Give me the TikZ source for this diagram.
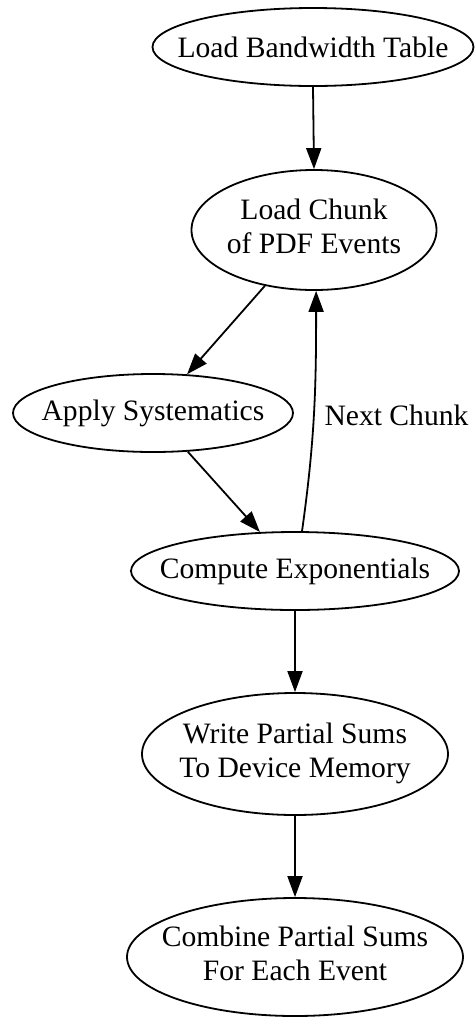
\documentclass[tikz,border=0pt]{standalone}
\usepackage{fontspec}
\setmainfont{Liberation Serif}
\usetikzlibrary{shapes.geometric,arrows.meta}
\begin{document}
\begin{tikzpicture}[x=0.5pt,y=-0.5pt,
  every node/.style={font=\fontsize{14.8}{17}\selectfont},
  proc/.style={draw, ellipse, line width=0.9pt, inner sep=0pt, align=center},
  flow/.style={line width=0.9pt, -{Triangle[length=10.5pt,width=7.5pt]}}]
\useasboundingbox (0,0) rectangle (475,1018);
\node[proc, minimum width=160.5pt, minimum height=39pt] (n1) at (313,47) {\makebox[0pt]{Load Bandwidth Table}};
\node[proc, minimum width=122.5pt, minimum height=60pt] (n2) at (314,230) {\makebox[0pt]{\begin{tabular}{@{}c@{}}Load Chunk\\of PDF Events\end{tabular}}};
\node[proc, minimum width=140pt, minimum height=39pt] (n3) at (153,413) {\makebox[0pt]{Apply Systematics}};
\node[proc, minimum width=164pt, minimum height=39pt] (n4) at (295,571) {\makebox[0pt]{Compute Exponentials}};
\node[proc, minimum width=153pt, minimum height=61pt] (n5) at (295,754) {\makebox[0pt]{\begin{tabular}{@{}c@{}}Write Partial Sums\\To Device Memory\end{tabular}}};
\node[proc, minimum width=168pt, minimum height=59pt] (n6) at (295,957) {\makebox[0pt]{\begin{tabular}{@{}c@{}}Combine Partial Sums\\For Each Event\end{tabular}}};
\draw[flow] (n1.south) -- (n2.north);
\draw[flow] (n2) -- (n3);
\draw[flow] (n3) -- (n4);
\draw[flow] (n4.80) to[out=82,in=270] node[pos=0.5, anchor=west, xshift=1.5pt, yshift=-2pt] {Next Chunk} (n2.272);
\draw[flow] (n4.south) -- (n5.north);
\draw[flow] (n5.south) -- (n6.north);
\end{tikzpicture}
\end{document}
